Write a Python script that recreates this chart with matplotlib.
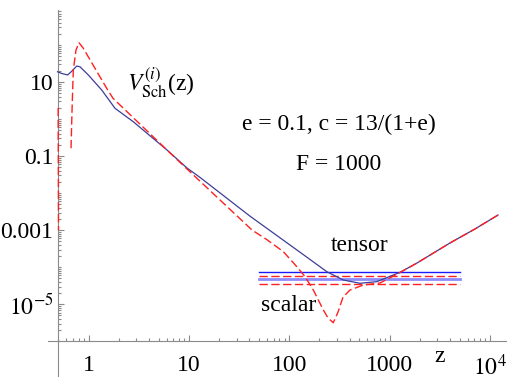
import numpy as np
import matplotlib
matplotlib.use("Agg")
import matplotlib.pyplot as plt
from matplotlib.ticker import FixedLocator, NullFormatter, FixedFormatter

plt.rcParams['font.family'] = ['Liberation Serif', 'DejaVu Serif']
plt.rcParams['mathtext.fontset'] = 'stix'

# ---- data ----
z_tensor = [0.490, 0.543, 0.619, 0.683, 0.761, 0.821, 0.993, 1.351, 1.833, 2.77,
            6.05, 9.57, 13.0, 40.6, 128, 237, 346, 508, 745, 1273, 1880,
            4010, 7120, 12080]
V_tensor = [18.9, 16.9, 15.5, 19.8, 27.0, 25.7, 15.5, 6.08, 1.95, 0.859,
            0.146, 0.0478, 0.0262, 2.4e-3, 2.55e-4, 7.6e-5, 4.53e-5,
            3.69e-5, 4.08e-5, 7.3e-5, 1.30e-4, 4.52e-4, 1.08e-3, 2.57e-3]

z_scalar_a = [0.497, 0.499, 0.501]
V_scalar_a = [2.0, 0.05, 1.0e-3]

z_scalar_b = [0.668, 0.686, 0.704, 0.749, 0.802, 0.886, 1.158, 1.515, 1.751,
              6.05, 9.57, 42.6, 59.7, 87.4, 119, 144, 174, 219, 244, 275, 307,
              344, 404, 548, 805, 1273, 1880, 4010, 7120, 12080]
V_scalar_b = [0.163, 2.39, 21.1, 73.1, 115, 81.3, 23.4, 6.76, 3.63,
              0.146, 0.0449, 1.01e-3, 5.6e-4, 2.63e-4, 1.04e-4, 5.56e-5,
              2.43e-5, 7.0e-6, 4.27e-6, 3.18e-6, 6.2e-6, 1.57e-5, 2.43e-5,
              3.32e-5, 3.76e-5, 7.2e-5, 1.30e-4, 4.52e-4, 1.08e-3, 2.57e-3]

z_levels = [50, 5000]
level_tensor_1 = 7.3e-5
level_scalar_1 = 5.9e-5
level_tensor_2 = 4.8e-5
level_scalar_2 = 3.5e-5

x_major = [1, 10, 100, 1000, 1e4]
x_labels = ['1', '10', '100', '1000', r'$10^{4}$']
y_major = [10, 0.1, 1e-3, 1e-5]
y_labels = ['10', '0.1', '0.001', r'$10^{-5}$']

# ---- figure ----
W, H = 507, 377
fig = plt.figure(figsize=(W / 100, H / 100), dpi=100)
ax = fig.add_axes([48 / W, 0, (W - 48) / W, (H - 10) / H])
ax.set_xscale('log')
ax.set_yscale('log')
ax.set_xlim(10 ** ((48 - 88.6) / 100.3), 10 ** ((507 - 88.6) / 100.3))
ax.set_ylim(10 ** (1 - (377 - 82) / 37.05), 10 ** (1 + 72 / 37.05))

ax.patch.set_alpha(0)
for s in ['top', 'right']:
    ax.spines[s].set_visible(False)
gray = '#8a8a8a'
ax.spines['left'].set_position(('data', 0.49))
ax.spines['bottom'].set_position(('data', 1e-6))
for s in ['left', 'bottom']:
    ax.spines[s].set_color(gray)
    ax.spines[s].set_linewidth(0.8)

blue = '#3d3d99'
red = '#ff2020'
dash = (0, (6, 2.5))

ax.plot(z_levels, [level_tensor_1] * 2, color='#1a1aff', lw=1.0, zorder=3)
ax.plot(z_levels, [level_tensor_2] * 2, color='#8c8cff', lw=2.0, zorder=3)
ax.plot(z_levels, [level_scalar_1] * 2, color=red, lw=1.0, ls=dash, zorder=4)
ax.plot(z_levels, [level_scalar_2] * 2, color=red, lw=1.0, ls=dash, zorder=4)

ax.plot(z_tensor, V_tensor, color=blue, lw=0.9, zorder=5)
ax.plot(z_scalar_a, V_scalar_a, color=red, lw=1.0, ls=dash, zorder=6)
ax.plot(z_scalar_b, V_scalar_b, color=red, lw=1.0, ls=dash, zorder=6)

# ticks
ax.xaxis.set_major_locator(FixedLocator(x_major))
ax.xaxis.set_major_formatter(FixedFormatter(x_labels))
xminor = [m * 10 ** k for k in range(-1, 5) for m in range(2, 10) if 0.5 <= m * 10 ** k <= 14000]
ax.xaxis.set_minor_locator(FixedLocator(xminor))
ax.xaxis.set_minor_formatter(NullFormatter())

ax.yaxis.set_major_locator(FixedLocator(y_major))
ax.yaxis.set_major_formatter(FixedFormatter(y_labels))
yminor = [m * 10 ** k for k in range(-6, 3) for m in range(1, 10)
          if m * 10 ** k not in y_major and 1e-6 <= m * 10 ** k <= 870]
ax.yaxis.set_minor_locator(FixedLocator(yminor))
ax.yaxis.set_minor_formatter(NullFormatter())

fs = 17
ax.tick_params(which='both', direction='in', color=gray, width=0.8,
               labelsize=fs, labelcolor='black')
ax.tick_params(which='major', length=4)
ax.tick_params(which='minor', length=2)
ax.tick_params(axis='x', which='major', pad=9.5)
ax.tick_params(axis='y', which='major', pad=3)
for lab in ax.get_xticklabels() + ax.get_yticklabels():
    lab.set_fontfamily(['Liberation Serif', 'DejaVu Serif'])

def px(x, y):
    return (x / W, 1 - y / H)

fig.text(*px(126.7, 91.7), r'$V^{(i)}_{\mathrm{Sch}}$(z)', fontsize=fs, ha='left', va='baseline')
fig.text(*px(339, 130), 'e = 0.1, c = 13/(1+e)', fontsize=fs, ha='center', va='baseline')
fig.text(*px(338.5, 170), 'F = 1000', fontsize=fs, ha='center', va='baseline')
fig.text(*px(359.5, 250.7), 'tensor', fontsize=fs, ha='center', va='baseline')
fig.text(*px(289, 310.7), 'scalar', fontsize=fs, ha='center', va='baseline')
fig.text(*px(440, 362), 'z', fontsize=fs, ha='center', va='baseline')

fig.savefig('out.png', dpi=100)
